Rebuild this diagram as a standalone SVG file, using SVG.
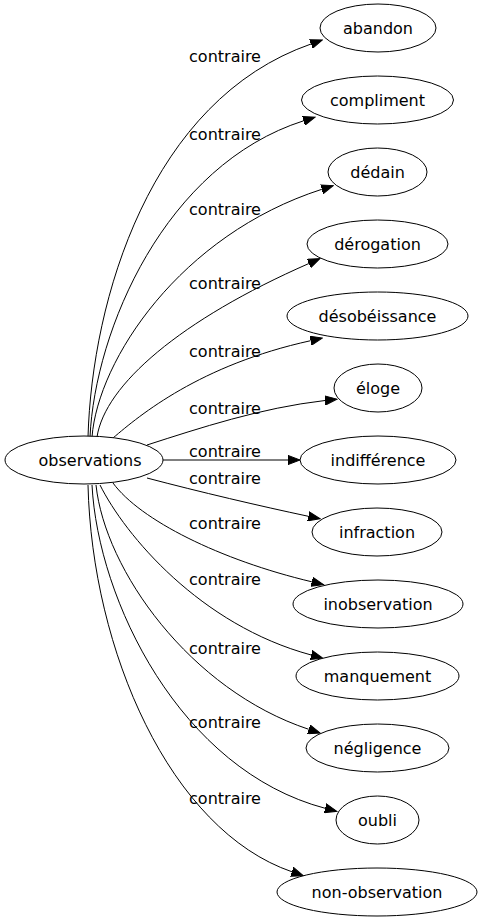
<svg xmlns="http://www.w3.org/2000/svg" width="481" height="923" viewBox="0 0 481 923">
<style>
.n ellipse{fill:#fff;stroke:#000;stroke-width:1}
text{font-family:"DejaVu Sans",sans-serif;font-size:16px;fill:#000;text-anchor:middle}
#edges path{fill:none;stroke:#000;stroke-width:1;marker-end:url(#ah)}
</style>
<defs>
<marker id="ah" markerUnits="userSpaceOnUse" markerWidth="13" markerHeight="10" refX="0" refY="5" orient="auto">
<path d="M0,0.4 L12,5 L0,9.6 z" fill="#000" stroke="#000" stroke-width="1"/>
</marker>
</defs>
<rect width="481" height="923" fill="#fff"/>
<g id="edges">
<path d="M88,437 C92,300 150,100 311,44"/>
<path d="M90,437 C95,330 165,165 303.6,120.8"/>
<path d="M92,437 C98,360 180,235 321.8,189.3"/>
<path d="M97,437 C105,385 180,320 308.9,263.5"/>
<path d="M113,438 C140,415 200,365 310.6,340.7"/>
<path d="M147,445 C200,428 260,408 325,400.5"/>
<path d="M163,460 L288,460"/>
<path d="M147,478 C200,492 260,506 308.4,516.3"/>
<path d="M113,483 C140,520 220,560 311.8,581.8"/>
<path d="M100,485 C125,535 200,625 311.2,655"/>
<path d="M96,485 C105,570 190,690 308.7,729.3"/>
<path d="M92,485 C98,600 180,770 325.2,808.3"/>
<path d="M88,485 C92,650 170,830 292,871.8"/>
<text x="225" y="62">contraire</text>
<text x="225" y="140">contraire</text>
<text x="225" y="215">contraire</text>
<text x="225" y="289">contraire</text>
<text x="225" y="357">contraire</text>
<text x="225" y="414">contraire</text>
<text x="225" y="457">contraire</text>
<text x="225" y="484">contraire</text>
<text x="225" y="529">contraire</text>
<text x="225" y="585">contraire</text>
<text x="225" y="654">contraire</text>
<text x="225" y="728">contraire</text>
<text x="225" y="804">contraire</text>
</g>
<g id="observations" class="n"><ellipse cx="84" cy="460" rx="79" ry="24"/><text x="90" y="466">observations</text></g>
<g id="abandon" class="n"><ellipse cx="378" cy="28" rx="58" ry="24"/><text x="378" y="34">abandon</text></g>
<g id="compliment" class="n"><ellipse cx="377.5" cy="100" rx="76" ry="24"/><text x="377.5" y="106">compliment</text></g>
<g id="dedain" class="n"><ellipse cx="377.5" cy="172" rx="49.5" ry="24"/><text x="377.5" y="178">dédain</text></g>
<g id="derogation" class="n"><ellipse cx="377.5" cy="244" rx="70.5" ry="24"/><text x="377.5" y="250">dérogation</text></g>
<g id="desobeissance" class="n"><ellipse cx="377.5" cy="316" rx="90.5" ry="24"/><text x="377.5" y="322">désobéissance</text></g>
<g id="eloge" class="n"><ellipse cx="378" cy="388" rx="44" ry="24"/><text x="378" y="394">éloge</text></g>
<g id="indifference" class="n"><ellipse cx="378" cy="460" rx="78" ry="24"/><text x="378" y="466">indifférence</text></g>
<g id="infraction" class="n"><ellipse cx="377" cy="532" rx="65" ry="24"/><text x="377" y="538">infraction</text></g>
<g id="inobservation" class="n"><ellipse cx="378" cy="604" rx="85" ry="24"/><text x="378" y="610">inobservation</text></g>
<g id="manquement" class="n"><ellipse cx="377.5" cy="676" rx="81.5" ry="24"/><text x="377.5" y="682">manquement</text></g>
<g id="negligence" class="n"><ellipse cx="377.5" cy="748" rx="71.5" ry="24"/><text x="377.5" y="754">négligence</text></g>
<g id="oubli" class="n"><ellipse cx="377.5" cy="820" rx="41.5" ry="24"/><text x="377.5" y="826">oubli</text></g>
<g id="non-observation" class="n"><ellipse cx="377" cy="892" rx="100" ry="24"/><text x="377" y="898">non-observation</text></g>
</svg>
